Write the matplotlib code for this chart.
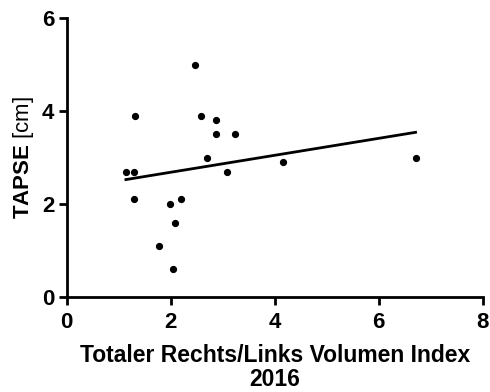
import numpy as np
import matplotlib
matplotlib.use("Agg")
import matplotlib.pyplot as plt

plt.rcParams['font.family'] = ['Liberation Sans', 'DejaVu Sans']
plt.rcParams['mathtext.fontset'] = 'custom'
plt.rcParams['mathtext.rm'] = 'Liberation Sans'
plt.rcParams['mathtext.bf'] = 'Liberation Sans:bold'

# data
volumen_index = [1.14, 1.30, 1.32, 1.29, 1.77, 1.99, 2.08, 2.05, 2.20,
                 2.46, 2.59, 2.70, 2.87, 2.88, 3.09, 3.23, 4.17, 6.71]
tapse = [2.7, 2.7, 3.9, 2.1, 1.1, 2.0, 1.6, 0.6, 2.1,
         5.0, 3.9, 3.0, 3.8, 3.5, 2.7, 3.5, 2.9, 3.0]

x = np.array(volumen_index)
y = np.array(tapse)
slope, intercept = np.polyfit(x, y, 1)
xfit = np.array([x.min(), x.max()])

fig = plt.figure(figsize=(4.9, 3.92), dpi=100)
ax = fig.add_axes([0.136, 0.243, 0.849, 0.710])

ax.plot(x, y, 'o', color='black', markersize=4.2)
ax.plot(xfit, slope * xfit + intercept, color='black', linewidth=2)

ax.set_xlim(0, 8)
ax.set_ylim(0, 6)
ax.set_xticks([0, 2, 4, 6, 8])
ax.set_yticks([0, 2, 4, 6])
for s in ['top', 'right']:
    ax.spines[s].set_visible(False)
for s in ['left', 'bottom']:
    ax.spines[s].set_linewidth(2)
ax.tick_params(axis='both', width=2, length=6, labelsize=16)
ax.tick_params(axis='x', pad=5)
ax.tick_params(axis='y', pad=3)
for lab in ax.get_xticklabels() + ax.get_yticklabels():
    lab.set_fontweight('bold')

ax.set_xlabel('Totaler Rechts/Links Volumen Index\n2016',
              fontsize=16.5, fontweight='bold', linespacing=1.05, labelpad=8)
ax.set_ylabel(r'$\mathbf{TAPSE}$ [cm]', fontsize=16, labelpad=4)

plt.savefig('out.png')
